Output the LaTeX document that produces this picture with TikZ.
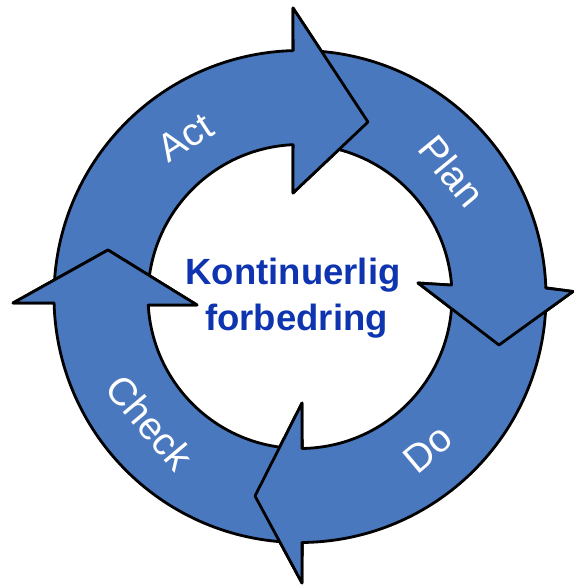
\documentclass[tikz,border=0pt]{standalone}
\usepackage{fontspec}
\setmainfont{Liberation Sans}
\definecolor{ringblue}{RGB}{74,120,190}
\definecolor{textblue}{RGB}{14,52,176}
\begin{document}
\begin{tikzpicture}[x=1pt,y=1pt,
  ring/.style={fill=ringblue, draw=black, line width=2.8pt, line join=round},
  headfill/.style={fill=ringblue},
  headline/.style={draw=black, line width=2.8pt, line join=round, line cap=round},
  lbl/.style={text=white, inner sep=0pt, font=\fontsize{39}{39}\selectfont},
  ctr/.style={text=textblue, inner sep=0pt, anchor=base, font=\fontsize{36.5}{36.5}\selectfont\bfseries}]
\useasboundingbox (-300,296.5) rectangle (273,-288.5);
% head points
\coordinate (actBo) at (-7,288.5);
\coordinate (actT)  at (68,174.5);
\coordinate (actBi) at (-7,103.5);
\coordinate (actNo) at (91.6:246);
\coordinate (actNi) at (92.6:152);
\coordinate (planBo) at (273,5);
\coordinate (planT)  at (199,-48.5);
\coordinate (planBi) at (118,13.5);
\coordinate (planNo) at (2:246);
\coordinate (planNi) at (4.3:152);
\coordinate (doBo) at (2,-286.5);
\coordinate (doT)  at (-45,-199.5);
\coordinate (doBi) at (2,-106.5);
\coordinate (doNo) at (-89.5:246);
\coordinate (doNi) at (-89.2:152);
\coordinate (chkBo) at (-287,-6.5);
\coordinate (chkT)  at (-192,46.5);
\coordinate (chkBi) at (-103,-8.5);
\coordinate (chkNo) at (-178.5:246);
\coordinate (chkNi) at (-176.8:152);
% arrows
\path[ring] (178:246) arc[start angle=178,end angle=91.6,radius=246] -- (actBo) -- (actT) -- (actBi) -- (actNi) arc[start angle=92.6,end angle=178,radius=152] -- cycle;
\path[ring] (87:246) arc[start angle=87,end angle=2,radius=246] -- (planBo) -- (planT) -- (planBi) -- (planNi) arc[start angle=4.3,end angle=87,radius=152] -- cycle;
\path[ring] (-1:246) arc[start angle=-1,end angle=-89.5,radius=246] -- (doBo) -- (doT) -- (doBi) -- (doNi) arc[start angle=-89.2,end angle=-1,radius=152] -- cycle;
\path[ring] (-92.5:246) arc[start angle=-92.5,end angle=-178.5,radius=246] -- (chkBo) -- (chkT) -- (chkBi) -- (chkNi) arc[start angle=-176.8,end angle=-92.5,radius=152] -- cycle;
% heads on top
\fill[headfill] (actBo) -- (actT) -- (actBi) -- cycle;
\fill[headfill] (planBo) -- (planT) -- (planBi) -- cycle;
\fill[headfill] (doBo) -- (doT) -- (doBi) -- cycle;
\fill[headfill] (chkBo) -- (chkT) -- (chkBi) -- cycle;
\draw[headline] (actNo) -- (actBo) -- (actT) -- (actBi) -- (actNi);
\draw[headline] (planNo) -- (planBo) -- (planT) -- (planBi) -- (planNi);
\draw[headline] (doNo) -- (doBo) -- (doT) -- (doBi) -- (doNi);
\draw[headline] (chkNo) -- (chkBo) -- (chkT) -- (chkBi) -- (chkNi);
% labels
\node[lbl, rotate=33] (act) at (125.8:196) {Act};
\node[lbl, rotate=-50.5] (plan) at (39.5:197) {Plan};
\node[lbl, rotate=40] (do) at (-50:199) {Do};
\node[lbl, rotate=-50] (check) at (220:196) {Check};
\node[ctr] (k1) at (-7,11.5) {Kontinuerlig};
\node[ctr] (k2) at (-3.5,-34) {forbedring};
\end{tikzpicture}
\end{document}
